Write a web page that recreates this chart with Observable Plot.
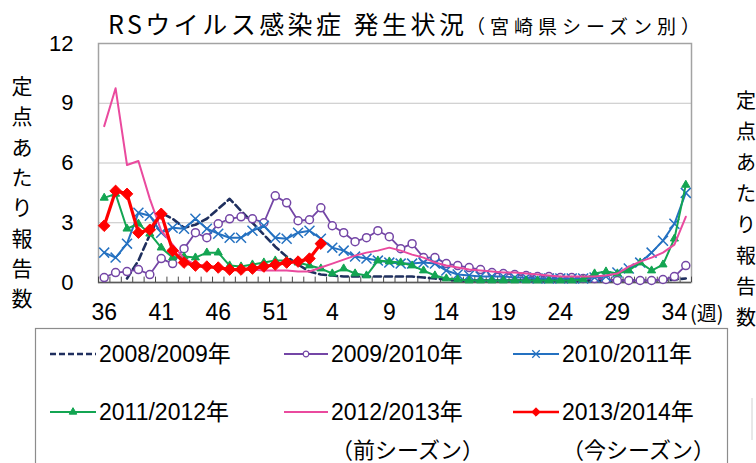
<!DOCTYPE html>
<html><head><meta charset="utf-8">
<script src="https://cdn.jsdelivr.net/npm/d3@7"></script>
<script src="https://cdn.jsdelivr.net/npm/@observablehq/plot@0.6"></script>
<style>
html,body{margin:0;padding:0;background:#fff;}
#chart{width:756px;height:463px;overflow:hidden;}
</style></head><body><div id="chart"></div>
<script>
// ---- data ----
const weeks = [36,37,38,39,40,41,42,43,44,45,46,47,48,49,50,51,52,1,2,3,4,5,6,7,8,9,10,11,12,13,14,15,16,17,18,19,20,21,22,23,24,25,26,27,28,29,30,31,32,33,34,35];
const tickIdx = [0,5,10,15,20,25,30,35,40,45,50];
const yTicks = [0,3,6,9,12];
const seasons = ["2008/2009年","2009/2010年","2010/2011年","2011/2012年","2012/2013年","2013/2014年"];
const seasonNotes = ["","","","","（前シーズン）","（今シーズン）"];
const s2008 = [null,null,0.2,1.1,2.4,3.5,3.2,2.75,2.9,3.2, 3.7,4.2,3.6,3.0,2.4,1.8,1.3,0.9,0.55,0.4, 0.35,0.3,0.3,0.3,0.3,0.3,0.3,0.3,0.25,0.2, 0.15,0.1,0.1,0.1,0.1,0.1,0.1,0.1,0.1,0.1, 0.1,0.1,0.1,0.1,0.1,0.1,0.1,0.1,0.1,0.1, 0.15,0.2];
const s2009 = [0.25,0.5,0.55,0.65,0.4,1.2,0.95,1.7,2.5,2.25, 2.95,3.2,3.3,3.2,3.0,4.35,4.0,3.1,3.15,3.75, 2.85,2.5,2.05,2.25,2.6,2.3,1.7,1.95,1.25,1.25, 0.95,0.85,0.75,0.65,0.5,0.45,0.4,0.35,0.3,0.3, 0.25,0.25,0.2,0.2,0.15,0.1,0.1,0.1,0.1,0.15, 0.3,0.85];
const s2010 = [1.5,1.25,1.95,3.5,3.35,2.5,2.75,2.7,3.2,2.7, 2.45,2.25,2.25,2.6,2.85,2.25,2.2,2.5,2.6,2.2, 1.75,1.6,1.3,1.2,1.1,1.0,0.95,0.95,1.0,0.95, 0.6,0.4,0.35,0.3,0.3,0.3,0.25,0.25,0.2,0.2, 0.2,0.2,0.2,0.25,0.3,0.5,0.7,1.0,1.5,2.1, 2.95,4.5];
const s2011 = [4.25,4.45,2.7,2.95,2.45,1.75,1.25,1.3,1.25,1.5, 1.5,0.85,0.8,0.9,1.0,1.1,1.1,1.0,0.85,0.7, 0.45,0.7,0.45,0.35,1.1,1.05,1.0,0.85,0.6,0.35, 0.2,0.15,0.1,0.1,0.1,0.1,0.1,0.1,0.1,0.1, 0.1,0.1,0.15,0.45,0.55,0.45,0.6,1.0,0.6,0.9, 2.2,4.9];
const s2012 = [7.85,9.75,5.9,6.1,4.2,2.6,1.9,1.2,0.9,0.8, 0.75,0.7,0.65,0.65,0.6,0.6,0.6,0.55,0.55,0.75, 0.95,1.15,1.35,1.5,1.6,1.75,1.6,1.4,1.25,1.0, 0.85,0.75,0.65,0.6,0.55,0.5,0.5,0.45,0.4,0.35, 0.3,0.3,0.3,0.3,0.35,0.45,0.8,1.05,1.25,1.5, 1.9,3.3];
const s2013 = [2.85,4.6,4.45,2.5,2.65,3.45,1.6,1.0,0.85,0.8, 0.75,0.65,0.65,0.7,0.8,0.9,1.0,1.05,1.2,1.95];

// ---- styles ----
const styles = [
  {values: s2008, color: "#1f2f5e", width: 2.6, dash: "7,4", symbol: null},
  {values: s2009, color: "#7446a6", width: 1.8, dash: null, symbol: "circle"},
  {values: s2010, color: "#2471c1", width: 2, dash: null, symbol: "times"},
  {values: s2011, color: "#13a552", width: 2, dash: null, symbol: "triangle"},
  {values: s2012, color: "#ea4a9e", width: 2, dash: null, symbol: null},
  {values: s2013, color: "#ff0000", width: 3.2, dash: null, symbol: "diamond2"}
];
const NUM = '"Liberation Sans", "Noto Sans CJK JP", sans-serif';
const CJK = '"Noto Sans CJK JP", "Liberation Sans", sans-serif';

const n = weeks.length;
const pts = vals => weeks.map((w, i) => ({i, v: vals[i] == null ? null : vals[i]}));
const halfTicks = d3.range(-0.5, n, 1);

function dotMark(st) {
  const data = pts(st.values).filter(d => d.v != null);
  if (st.symbol === "circle") return Plot.dot(data, {x: "i", y: "v", r: 4, fill: "white", stroke: st.color, strokeWidth: 1.5});
  if (st.symbol === "times") return Plot.dot(data, {x: "i", y: "v", symbol: "times", r: 4.6, fill: "none", stroke: st.color, strokeWidth: 1.5});
  if (st.symbol === "triangle") return Plot.dot(data, {x: "i", y: "v", symbol: "triangle", r: 3, fill: st.color, stroke: st.color, strokeWidth: 1});
  if (st.symbol === "diamond2") return Plot.dot(data, {x: "i", y: "v", symbol: "diamond2", r: 5.2, fill: st.color, stroke: st.color, strokeWidth: 1});
  return null;
}

const marks = [
  Plot.gridY(yTicks.filter(t => t > 0 && t < 12), {stroke: "#c4c4c4", strokeOpacity: 1, strokeWidth: 1}),
  Plot.frame({stroke: "#a3a3a3", strokeWidth: 1.5}),
  Plot.ruleY([0], {stroke: "#5a5a5a", strokeWidth: 1.5}),
  Plot.ruleX(halfTicks, {y1: 0, y2: 0.27, stroke: "#4a4a4a", strokeWidth: 1}),
  Plot.axisX({ticks: tickIdx, tickFormat: i => String(weeks[i]), tickSize: 0, tickPadding: 21, fontSize: 23, fontFamily: NUM, label: null}),
  Plot.axisY({ticks: yTicks, tickSize: 0, tickPadding: 25, fontSize: 22, fontFamily: NUM, label: null})
];
styles.forEach(st => {
  marks.push(Plot.line(pts(st.values), {x: "i", y: "v", stroke: st.color, strokeWidth: st.width, strokeDasharray: st.dash || undefined, curve: "linear"}));
  const dm = dotMark(st);
  if (dm) marks.push(dm);
});

const plot = Plot.plot({
  width: 756, height: 463,
  marginLeft: 98, marginRight: 65, marginTop: 43, marginBottom: 181,
  style: {fontFamily: NUM, background: "#fff", color: "#000", overflow: "hidden"},
  x: {domain: [-0.5, n - 0.5], axis: null, label: null},
  y: {domain: [0, 12], axis: null, label: null},
  marks
});
document.getElementById("chart").appendChild(plot);

// ---- decorations: title, axis titles, legend ----
const svg = d3.select(plot);
const g = svg.append("g").attr("text-anchor", "start");
g.append("text").attr("x", 108).attr("y", 34).attr("text-anchor", "start").attr("font-family", CJK).attr("font-size", 25)
  .attr("textLength", 356).attr("lengthAdjust", "spacing").attr("fill", "#000").text("RSウイルス感染症 発生状況");
g.append("text").attr("x", 466).attr("y", 34).attr("text-anchor", "start").attr("font-family", CJK).attr("font-size", 19)
  .attr("textLength", 234).attr("lengthAdjust", "spacing").attr("fill", "#000").text("（宮崎県シーズン別）");

const yTitle = "定点あたり報告数";
Array.from(yTitle).forEach((ch, k) => {
  g.append("text").attr("x", 22).attr("y", 85 + k * 30.3).attr("text-anchor", "middle")
    .attr("dominant-baseline", "central").attr("font-family", CJK).attr("font-size", 21).text(ch);
  g.append("text").attr("x", 746).attr("y", 99 + k * 31).attr("text-anchor", "middle")
    .attr("dominant-baseline", "central").attr("font-family", CJK).attr("font-size", 20).text(ch);
});
g.append("text").attr("x", 690).attr("y", 312).attr("text-anchor", "start").attr("dominant-baseline", "central")
  .attr("font-family", CJK).attr("font-size", 20).text("(週)");

// legend box
g.append("rect").attr("x", 35.5).attr("y", 328.5).attr("width", 692).attr("height", 200)
  .attr("fill", "none").attr("stroke", "#8c8c8c").attr("stroke-width", 1.2);
g.append("line").attr("x1", 752).attr("x2", 752).attr("y1", 398).attr("y2", 440).attr("stroke", "#d0d0d0");

const legPos = [
  {x0: 50, x1: 96, tx: 99, y: 354}, {x0: 284, x1: 328, tx: 331, y: 354}, {x0: 513, x1: 559, tx: 562, y: 354},
  {x0: 50, x1: 96, tx: 99, y: 412}, {x0: 284, x1: 328, tx: 331, y: 412}, {x0: 513, x1: 559, tx: 562, y: 412}
];
const symMap = {circle: d3.symbolCircle, times: d3.symbolTimes, triangle: d3.symbolTriangle, diamond2: d3.symbolDiamond2};
styles.forEach((st, k) => {
  const p = legPos[k];
  const ln = g.append("line").attr("x1", p.x0).attr("x2", p.x1).attr("y1", p.y).attr("y2", p.y)
    .attr("stroke", st.color).attr("stroke-width", Math.min(st.width, 2.6));
  if (st.dash) ln.attr("stroke-dasharray", "6,3");
  if (st.symbol) {
    const cx = (p.x0 + p.x1) / 2;
    const r = st.symbol === "times" ? 3.5 : st.symbol === "diamond2" ? 3.8 : 2.8;
    const path = d3.symbol(symMap[st.symbol], Math.PI * r * r)();
    const s = g.append("path").attr("d", path).attr("transform", `translate(${cx},${p.y})`);
    if (st.symbol === "circle") s.attr("fill", "white").attr("stroke", st.color).attr("stroke-width", 1.2);
    else if (st.symbol === "times") s.attr("fill", "none").attr("stroke", st.color).attr("stroke-width", 1.3);
    else s.attr("fill", st.color).attr("stroke", st.color);
  }
  g.append("text").attr("x", p.tx).attr("y", p.y).attr("text-anchor", "start").attr("dominant-baseline", "central")
    .attr("font-family", NUM).attr("font-size", 23).attr("fill", "#000").text(seasons[k]);
  if (seasonNotes[k]) {
    g.append("text").attr("x", p.tx).attr("y", 448).attr("text-anchor", "start").attr("dominant-baseline", "central")
      .attr("font-family", CJK).attr("font-size", 22).attr("fill", "#000").text(seasonNotes[k]);
  }
});
</script>
</body></html>
